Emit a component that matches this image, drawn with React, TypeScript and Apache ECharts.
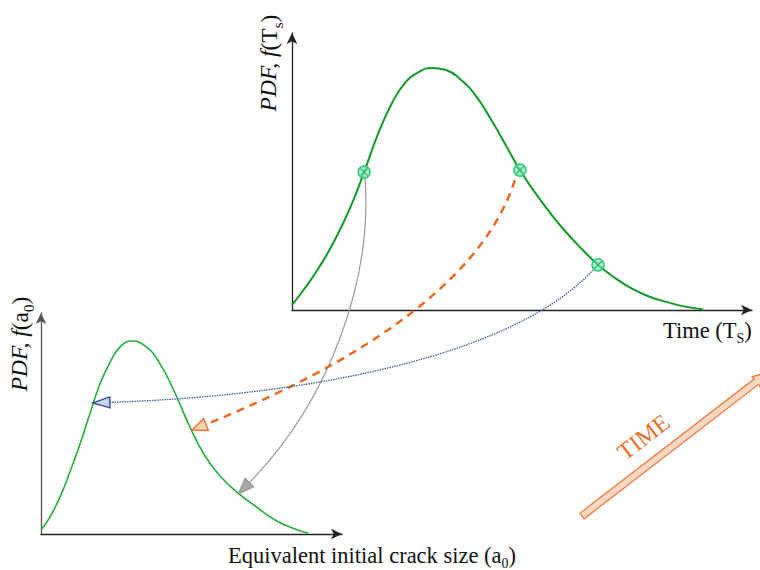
import React, { useEffect, useRef } from "react";
import * as echarts from "echarts";

// Upper plot: PDF of time (Ts)
const upperCurveX = [0, 2.8, 6.0, 9.2, 12.5, 15.5, 18.5, 21.5, 24.3, 27.1, 30.1, 33.1, 36.1, 39.4, 42.6, 45.8, 49.0, 52.3, 55.5, 58.7, 61.9, 65.8, 69.5, 73.3, 77.0, 80.6, 84.5, 88.4];
const upperCurveY = [1.8, 7.8, 15.6, 24.8, 36.2, 48.9, 62.4, 73.4, 80.5, 84.2, 85.8, 85.1, 81.9, 76.2, 68.1, 58.9, 49.6, 41.5, 34.4, 28.0, 22.3, 16.0, 11.3, 7.4, 4.6, 2.8, 1.2, 0.2];
// Lower plot: PDF of equivalent initial crack size (a0)
const lowerCurveX = [0, 2.9, 6.2, 9.4, 12.7, 16.0, 19.2, 22.5, 25.7, 29.6, 33.9, 38.8, 43.6, 48.5, 53.4, 58.3, 64.2, 69.7, 76.2, 82.7, 87.0];
const lowerCurveY = [1.8, 7.5, 16.4, 27.4, 39.8, 53.5, 66.4, 76.1, 82.7, 85.4, 83.2, 75.2, 62.4, 47.3, 34.5, 25.7, 18.1, 12.4, 6.2, 2.2, 0.4];
// Marked points on upper curve and their mapped targets on lower curve
const markerX = [15.5, 49.0, 65.8];
const markerY = [48.9, 49.6, 16.0];
const targetX = [64.2, 49.2, 16.9];
const targetY = [17.7, 46.0, 58.0];

const upperYLabel = "{it|PDF, f}{n|(T}{sub|s}{n|)}";
const upperXLabel = "{n|Time (T}{sub|S}{n|)}";
const lowerYLabel = "{it|PDF, f}{n|(a}{sub|0}{n|)}";
const lowerXLabel = "{n|Equivalent initial crack size (a}{sub|0}{n|)}";
const timeLabel = "TIME";

const FAM = "'Liberation Serif', 'Times New Roman', serif";

const makeRich = (size: number) => ({
  n: { font: `${size}px ${FAM}`, lineHeight: Math.round(size * 1.22), verticalAlign: "top", fill: "#111" },
  it: { font: `italic ${size}px ${FAM}`, lineHeight: Math.round(size * 1.22), verticalAlign: "top", fill: "#111" },
  sub: { font: `${Math.round(size * 0.62)}px ${FAM}`, lineHeight: Math.round(size * 0.62), verticalAlign: "bottom", fill: "#111" },
});

function axisBase(gridIndex: number, max: number, color: string) {
  return {
    type: "value" as const,
    gridIndex,
    min: 0,
    max,
    axisLine: {
      show: true,
      onZero: false,
      symbol: ["none", "arrow"],
      symbolSize: [8, 11],
      lineStyle: { color, width: 1.3 },
    },
    axisTick: { show: false },
    axisLabel: { show: false },
    splitLine: { show: false },
  };
}

export default function App() {
  const ref = useRef<HTMLDivElement>(null);
  useEffect(() => {
    if (!ref.current) return;
    const chart = echarts.init(ref.current, null, { renderer: "svg" });
    const upperData = upperCurveX.map((x, i) => [x, upperCurveY[i]]);
    const lowerData = lowerCurveX.map((x, i) => [x, lowerCurveY[i]]);
    const markers = markerX.map((x, i) => [x, markerY[i]]);
    chart.setOption({
      animation: false,
      backgroundColor: "#ffffff",
      grid: [
        { left: 292, top: 33, width: 460, height: 277 },
        { left: 41, top: 313, width: 301, height: 221 },
      ],
      xAxis: [axisBase(0, 98.9, "#222"), axisBase(1, 98.0, "#222")],
      yAxis: [axisBase(0, 98.2, "#222"), axisBase(1, 97.8, "#555")],
      series: [
        {
          type: "line",
          xAxisIndex: 0,
          yAxisIndex: 0,
          data: upperData,
          smooth: 0.5,
          symbol: "none",
          lineStyle: { color: "#10982a", width: 2 },
          z: 2,
        },
        {
          type: "line",
          xAxisIndex: 1,
          yAxisIndex: 1,
          data: lowerData,
          smooth: 0.5,
          symbol: "none",
          lineStyle: { color: "#22ad3c", width: 1.6 },
          z: 2,
        },
        {
          type: "scatter",
          xAxisIndex: 0,
          yAxisIndex: 0,
          data: markers,
          symbol: "circle",
          symbolSize: 12,
          itemStyle: { color: "rgba(140,232,180,0.75)", borderColor: "#2fc77a", borderWidth: 1.5, opacity: 1 },
          z: 5,
        },
        {
          type: "scatter",
          xAxisIndex: 0,
          yAxisIndex: 0,
          data: markers,
          symbol: "path://M0 0L10 10M10 0L0 10",
          symbolSize: 7,
          itemStyle: { color: "transparent", borderColor: "#22b46a", borderWidth: 1.2, opacity: 1 },
          z: 6,
        },
      ],
    });

    const toPx = (g: number, x: number, y: number) =>
      chart.convertToPixel({ gridIndex: g }, [x, y]) as number[];

    const arrowDefs = [
      { startOff: [1, 7], cp1: [7, 101], cp2: [92, -94], len: 16, hw: 6, line: { stroke: "#9a9a9a", lineWidth: 1.2 }, head: { fill: "#aaaaaa", stroke: "#9a9a9a", lineWidth: 1.2 } },
      { startOff: [-5, 10], cp1: [-35, 110], cp2: [148, -60], len: 15, hw: 6.5, line: { stroke: "#ea6a1f", lineWidth: 2.5, lineDash: [8, 6] }, head: { fill: "#fcd3b8", stroke: "#ec7430", lineWidth: 1.4 } },
      { startOff: [-5, 5], cp1: [-73, 80], cp2: [237, -8], len: 17, hw: 5.5, line: { stroke: "#3d5a98", lineWidth: 1.3, lineDash: [1.5, 1] }, head: { fill: "#c6d6ec", stroke: "#2f4d8c", lineWidth: 1.4 } },
    ];

    const graphics: any[] = [];
    arrowDefs.forEach((a, i) => {
      const m = toPx(0, markerX[i], markerY[i]);
      const tip = toPx(1, targetX[i], targetY[i]);
      const start = [m[0] + a.startOff[0], m[1] + a.startOff[1]];
      const c1 = [start[0] + a.cp1[0], start[1] + a.cp1[1]];
      const c2 = [tip[0] + a.cp2[0], tip[1] + a.cp2[1]];
      let dx = tip[0] - c2[0];
      let dy = tip[1] - c2[1];
      const d = Math.hypot(dx, dy);
      dx /= d;
      dy /= d;
      const base = [tip[0] - dx * a.len, tip[1] - dy * a.len];
      const px = -dy, py = dx;
      graphics.push({
        type: "bezierCurve",
        z: 10,
        shape: { x1: start[0], y1: start[1], cpx1: c1[0], cpy1: c1[1], cpx2: c2[0], cpy2: c2[1], x2: base[0], y2: base[1] },
        style: { ...a.line, fill: "none" },
      });
      graphics.push({
        type: "polygon",
        z: 11,
        shape: {
          points: [
            [tip[0], tip[1]],
            [base[0] + px * a.hw, base[1] + py * a.hw],
            [base[0] - px * a.hw, base[1] - py * a.hw],
          ],
        },
        style: a.head,
      });
    });

    const labelStyle = (text: string, align: string, size: number) => ({
      text,
      align,
      verticalAlign: "middle",
      font: `${size}px ${FAM}`,
      fill: "#111",
      rich: makeRich(size),
    });

    // Axis labels
    graphics.push({ type: "text", z: 12, x: 271, y: 63, rotation: Math.PI / 2, style: labelStyle(upperYLabel, "center", 23.5) });
    graphics.push({ type: "text", z: 12, x: 663, y: 332, style: labelStyle(upperXLabel, "left", 22.5) });
    graphics.push({ type: "text", z: 12, x: 22, y: 344, rotation: Math.PI / 2, style: labelStyle(lowerYLabel, "center", 23.5) });
    graphics.push({ type: "text", z: 12, x: 372, y: 557, style: labelStyle(lowerXLabel, "center", 22.5) });

    // TIME arrow
    const ang = Math.atan2(137, 178);
    graphics.push({
      type: "group",
      x: 582,
      y: 516,
      rotation: ang,
      z: 12,
      children: [
        {
          type: "polygon",
          shape: { points: [[0, -3.5], [220, -3.5], [220, -6.5], [236, 0], [220, 6.5], [220, 3.5], [0, 3.5]] },
          style: { fill: "#fdd9c3", stroke: "#ee7a38", lineWidth: 1.3 },
        },
        {
          type: "text",
          x: 97,
          y: -25,
          style: { text: timeLabel, font: `24px ${FAM}`, fill: "#e8702a", align: "center", verticalAlign: "middle" },
        },
      ],
    });

    chart.setOption({ graphic: graphics });
    return () => chart.dispose();
  }, []);
  return <div ref={ref} style={{ position: "fixed", left: 0, top: 0, width: 760, height: 570 }} />;
}
